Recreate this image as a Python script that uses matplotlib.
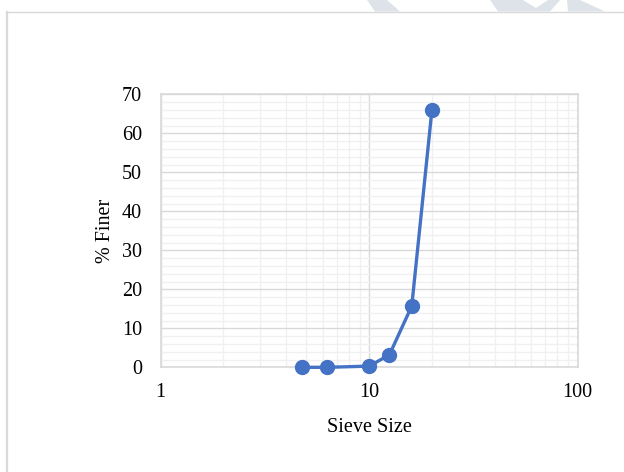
from matplotlib import pyplot as plt
from matplotlib.patches import Polygon
from matplotlib.ticker import LogLocator, MultipleLocator, NullFormatter, FixedLocator
import numpy as np

# sieve data
sieve_size = [4.75, 6.3, 10, 12.5, 16, 20]
pct_finer = [0.0, 0.0, 0.3, 3.2, 15.7, 66.1]

x_ticks = [1, 10, 100]
x_tick_labels = ['1', '10', '100']
y_ticks = [0, 10, 20, 30, 40, 50, 60, 70]

plt.rcParams['font.family'] = ['Liberation Serif', 'DejaVu Serif']

W, H = 624, 472
fig = plt.figure(figsize=(W / 100, H / 100), dpi=100)

def px(x, y):
    return (x / W, 1 - y / H)

# faint watermark strokes above the chart frame
wm = '#dde3e8'
for pts in [[(367, 0), (387, 0), (400, 11.5), (375, 11.5)],
            [(490, 0), (523, 0), (536, 8), (548, 0), (560, 0), (550, 11.5), (498, 11.5)],
            [(567, 0), (580, 0), (605, 11.5), (568, 11.5)]]:
    fig.patches.append(Polygon([px(*p) for p in pts], closed=True,
                               transform=fig.transFigure, fc=wm, ec='none'))

# chart frame (left and top edges visible)
fig.add_artist(plt.Line2D([6.5 / W, 6.5 / W], [0, 1 - 11.5 / H], color='#d9d9d9', lw=1.6,
                          transform=fig.transFigure))
fig.add_artist(plt.Line2D([6.5 / W, 1], [1 - 11.5 / H, 1 - 11.5 / H], color='#d9d9d9', lw=1.0,
                          transform=fig.transFigure))

ax = fig.add_axes([160.7 / W, 1 - 367.3 / H, 417 / W, 273 / H])
ax.set_xscale('log')
ax.set_xlim(1, 100)
ax.set_ylim(0, 70)

ax.xaxis.set_major_locator(FixedLocator(x_ticks))
ax.set_xticklabels(x_tick_labels)
ax.xaxis.set_minor_locator(LogLocator(base=10, subs=np.arange(2, 10)))
ax.xaxis.set_minor_formatter(NullFormatter())
ax.set_yticks(y_ticks)
ax.yaxis.set_minor_locator(MultipleLocator(2))

ax.grid(which='minor', color='#f0f0f0', lw=1.0)
ax.grid(which='major', color='#d9d9d9', lw=1.0)
ax.set_axisbelow(True)
for s in ax.spines.values():
    s.set_color('#d9d9d9')
    s.set_linewidth(1.2)

ax.tick_params(which='both', length=0, labelsize=14.5, colors='black')
ax.tick_params(axis='y', pad=13.5)
ax.tick_params(axis='x', pad=11)

ax.plot(sieve_size, pct_finer, color='#4472C4', lw=2.4, marker='o', ms=10,
        clip_on=False, zorder=3)

ax.set_xlabel('Sieve Size', fontsize=14.5, va='center')
ax.set_ylabel('% Finer', fontsize=14.5, va='center')
ax.xaxis.set_label_coords(0.5, (367.3 - 427) / 273)
ax.yaxis.set_label_coords((105 - 160.7) / 417, 0.5)

fig.savefig('out.png', dpi=100)
